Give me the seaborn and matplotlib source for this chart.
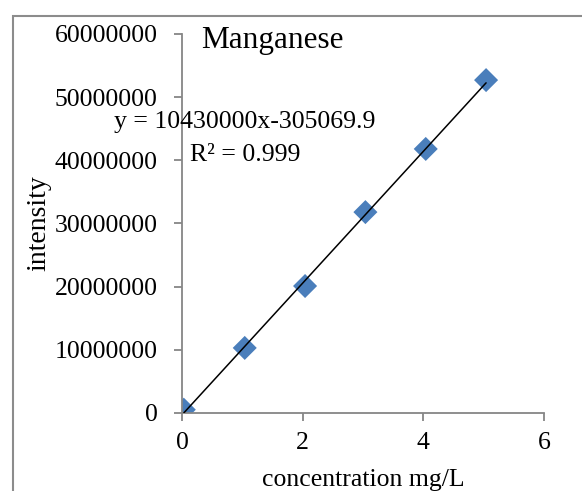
import numpy as np
import pandas as pd
import matplotlib
matplotlib.use("Agg")
import matplotlib.pyplot as plt
from matplotlib.patches import Rectangle
from matplotlib.ticker import FuncFormatter
import seaborn as sns

# Calibration standards (mg/L) and measured intensities
concentration = [0.03, 1.04, 2.04, 3.04, 4.04, 5.04]
intensity = [520000, 10300000, 20100000, 31800000, 41800000, 52700000]

# Linear fit reported for the calibration
slope = 10430000
intercept = -305069.9
r_squared = 0.999

title = "Manganese"
x_label = "concentration mg/L"
y_label = "intensity"
x_ticks = [0, 2, 4, 6]
y_ticks = [0, 10000000, 20000000, 30000000, 40000000, 50000000, 60000000]

sns.set_theme(style="white")
plt.rcParams["font.family"] = ["Liberation Serif", "DejaVu Serif"]

df = pd.DataFrame({"conc": concentration, "intensity": intensity})

fig = plt.figure(figsize=(5.82, 4.91), dpi=100)
ax = fig.add_axes([0.3127, 0.1589, 0.622, 0.7719])

sns.scatterplot(data=df, x="conc", y="intensity", marker="D", s=150,
                color="#4A7EBB", edgecolor="none", ax=ax, zorder=2)

# Trendline across the range of the standards
xs = np.array([concentration[0], concentration[-1]])
ax.plot(xs, slope * xs + intercept, color="black", lw=1.1, zorder=3)

ax.set_xlim(0, 6)
ax.set_ylim(0, 60000000)
ax.set_xticks(x_ticks)
ax.set_yticks(y_ticks)
ax.yaxis.set_major_formatter(FuncFormatter(lambda v, p: f"{v:.0f}"))
ax.xaxis.set_major_formatter(FuncFormatter(lambda v, p: f"{v:.0f}"))

axis_grey = "#868686"
for side in ["top", "right"]:
    ax.spines[side].set_visible(False)
for side in ["left", "bottom"]:
    ax.spines[side].set_color(axis_grey)
    ax.spines[side].set_linewidth(1.3)

ax.tick_params(axis="both", direction="out", length=6, width=1.3,
               color=axis_grey, labelsize=18.5, labelcolor="black")
ax.tick_params(axis="y", pad=11.5, left=True)
ax.tick_params(axis="x", pad=8.0, bottom=True)

ax.set_xlabel(x_label, fontsize=18.5, color="black")
ax.xaxis.set_label_coords(0.5, -0.148)
ax.set_ylabel(y_label, fontsize=20, color="black")
ax.yaxis.set_label_coords(-0.362, 0.50)

ax.text(0.054, 0.963, title, transform=ax.transAxes, ha="left",
        va="baseline", fontsize=22.5, color="black")
ax.text(0.174, 0.769, f"y = {slope:.0f}x-{abs(intercept):.1f}",
        transform=ax.transAxes, ha="center", va="center", fontsize=18.5,
        color="black")
ax.text(0.174, 0.681, f"R\u00b2 = {r_squared}", transform=ax.transAxes,
        ha="center", va="center", fontsize=18.5, color="black")

# Chart-area frame
fig.patches.append(Rectangle((13 / 582, -0.2), 1.2, (1 - 16 / 491) + 0.2,
                             transform=fig.transFigure, fill=False,
                             edgecolor="#8c8c8c", lw=1.5))

fig.savefig("out.png", dpi=100)
